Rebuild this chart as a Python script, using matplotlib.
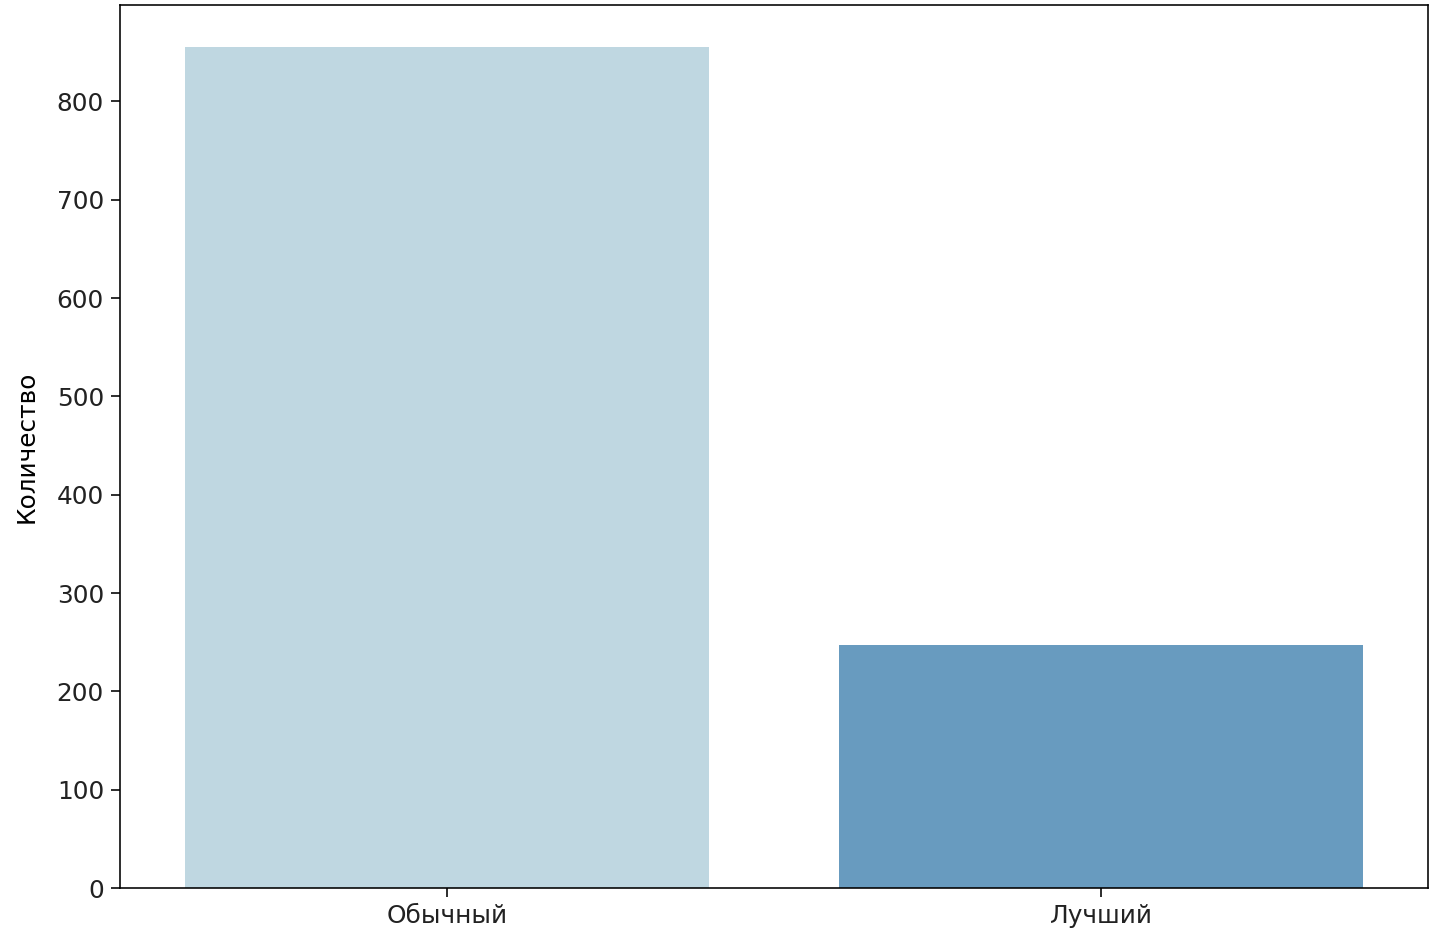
import matplotlib
matplotlib.use("Agg")
import matplotlib.pyplot as plt

categories = ["Обычный", "Лучший"]
counts = [855, 247]
colors = ["#bfd7e1", "#689bbf"]

plt.rcParams["font.size"] = 12.4
plt.rcParams["xtick.major.size"] = 4.5
plt.rcParams["ytick.major.size"] = 4.5
plt.rcParams["text.color"] = "#222222"
plt.rcParams["xtick.labelcolor"] = "#222222"
plt.rcParams["ytick.labelcolor"] = "#222222"

fig = plt.figure(figsize=(10, 941/144), dpi=144)
ax = fig.add_axes([120/1440, 1 - 888/941, (1428-120)/1440, (888-5)/941])
ax.bar(range(len(categories)), counts, width=0.8, color=colors)
ax.set_xticks(range(len(categories)))
ax.set_xticklabels(categories)
ax.set_xlim(-0.5, 1.5)
ax.set_ylim(0, 898)
ax.set_ylabel("Количество")
ax.yaxis.set_label_coords(-0.062, 0.5)
fig.savefig("out.png", dpi=144)
